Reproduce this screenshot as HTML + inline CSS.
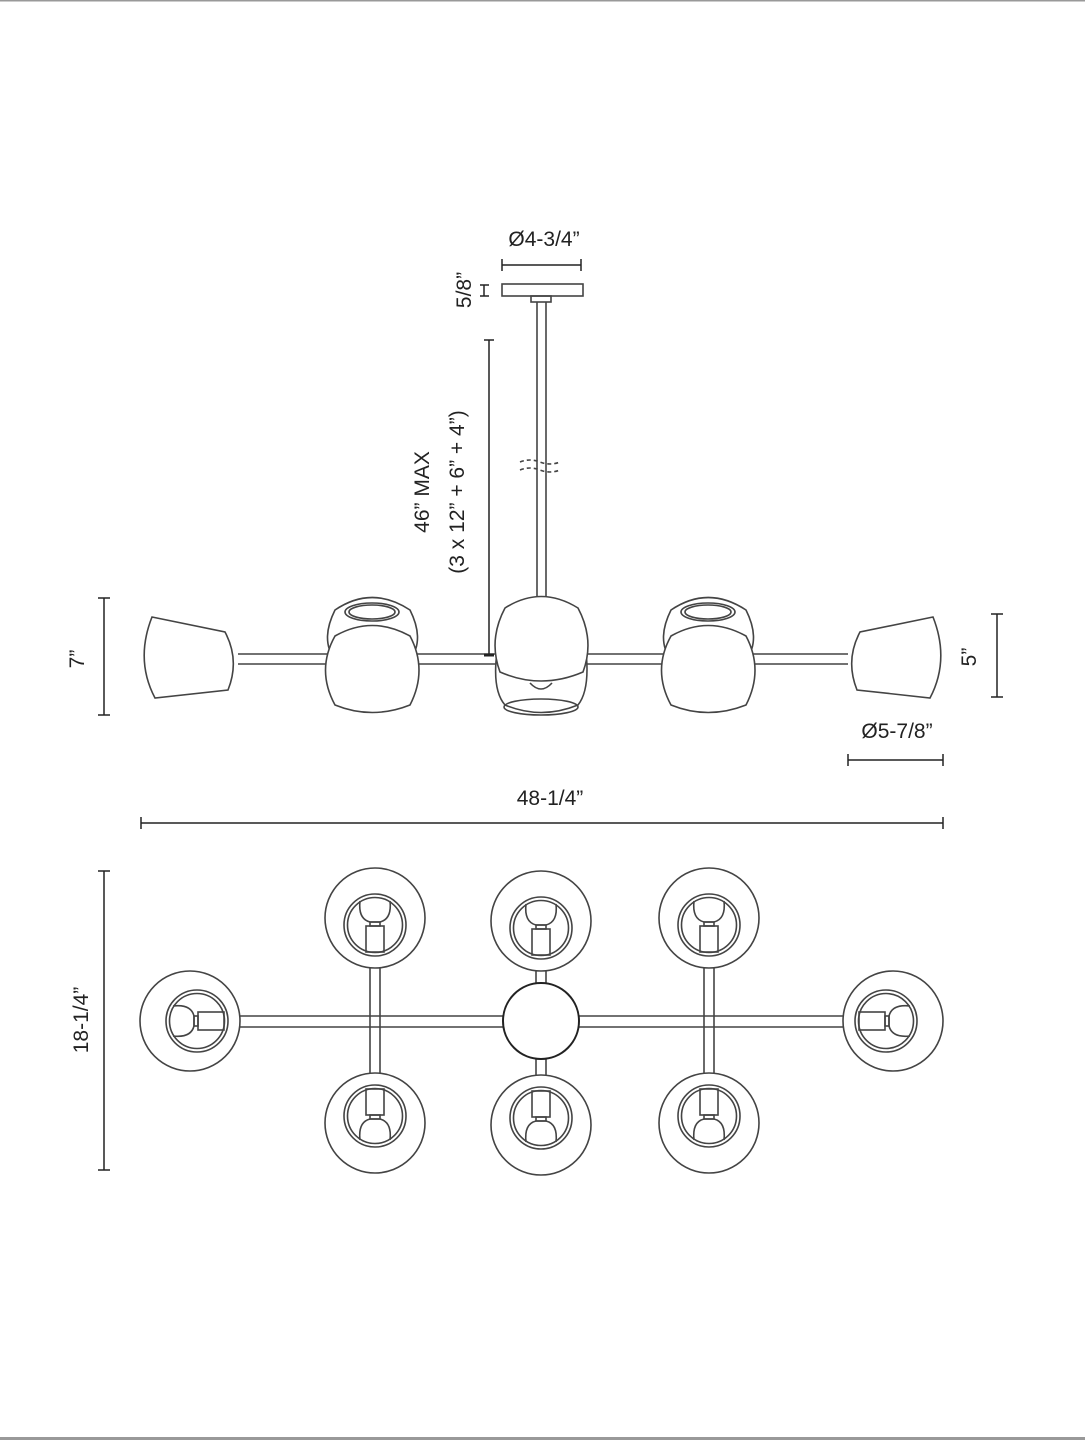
<!DOCTYPE html>
<html><head><meta charset="utf-8"><style>
html,body{margin:0;padding:0;background:#fff}
svg{display:block}
text{font-family:"Liberation Sans",sans-serif;font-size:21px;fill:#222}
</style></head><body>
<svg width="1085" height="1440" viewBox="0 0 1085 1440" xmlns="http://www.w3.org/2000/svg">
<defs>
<g id="gl" fill="none" stroke="#444" stroke-width="1.6">
  <circle cx="0" cy="0" r="50"/>
  <circle cx="0" cy="7" r="31"/>
  <circle cx="0" cy="7" r="27.5"/>
  <path d="M-15,-17 Q-17,1 -5,4 L5,4 Q17,1 15,-17"/>
  <rect x="-5" y="4" width="10" height="4"/>
  <rect x="-9" y="8" width="18" height="26"/>
</g>
</defs>
<rect x="0" y="0" width="1085" height="1.5" fill="#999"/>
<rect x="0" y="1437" width="1085" height="3" fill="#999"/>

<g fill="none" stroke="#444" stroke-width="1.6">
<rect x="502" y="284" width="81" height="12"/>
<rect x="531" y="296" width="20" height="6"/>
<line x1="537" y1="302" x2="537" y2="600"/><line x1="546" y1="302" x2="546" y2="600"/>
<path d="M520,462 q10,-4 20,0 q10,4 20,0 M520,470 q10,-4 20,0 q10,4 20,0" stroke-dasharray="4 3"/>
<line x1="238" y1="654" x2="848" y2="654"/><line x1="238" y1="664" x2="848" y2="664"/>
<path d="M152,617 L225,632 Q240,660 228,690 L155,698 Q135,660 152,617 Z" fill="#fff"/>
<path d="M933,617 L860,632 Q845,660 857,690 L930,698 Q950,660 933,617 Z" fill="#fff"/>
<g id="pair">
<path d="M335,610 Q372,585 410,610 Q425,640 410,660 L335,660 Q320,640 335,610 Z" fill="#fff"/>
<ellipse cx="372" cy="612" rx="27" ry="9"/><ellipse cx="372" cy="612" rx="23" ry="7"/>
<path d="M335,636 Q372,615 410,636 Q428,670 410,705 Q372,720 335,705 Q316,670 335,636 Z" fill="#fff"/>
</g>
<use href="#pair" x="336"/>
<path d="M497,652 Q492,690 505,705 Q541,720 578,705 Q590,690 586,652 Z" fill="#fff"/>
<ellipse cx="541" cy="707" rx="37" ry="8"/>
<path d="M530,683 Q541,695 552,683"/>
<path d="M505,608 Q541,585 578,608 Q595,640 583,672 Q541,690 500,672 Q488,640 505,608 Z" fill="#fff"/>
<line x1="240" y1="1016" x2="843" y2="1016"/><line x1="240" y1="1027" x2="843" y2="1027"/>
<line x1="370" y1="968" x2="370" y2="1073"/><line x1="380" y1="968" x2="380" y2="1073"/>
<line x1="704" y1="968" x2="704" y2="1073"/><line x1="714" y1="968" x2="714" y2="1073"/>
<line x1="536" y1="970" x2="536" y2="1075"/><line x1="546" y1="970" x2="546" y2="1075"/>
<circle cx="541" cy="1021" r="38" fill="#fff" stroke="#222" stroke-width="2"/>
</g>
<use href="#gl" transform="translate(375,918)"/>
<use href="#gl" transform="translate(541,921)"/>
<use href="#gl" transform="translate(709,918)"/>
<use href="#gl" transform="translate(375,1123) rotate(180)"/>
<use href="#gl" transform="translate(541,1125) rotate(180)"/>
<use href="#gl" transform="translate(709,1123) rotate(180)"/>
<use href="#gl" transform="translate(190,1021) rotate(-90)"/>
<use href="#gl" transform="translate(893,1021) rotate(90)"/>

<g stroke="#222" stroke-width="1.5" fill="none">
<line x1="502" y1="265" x2="581" y2="265"/><line x1="502" y1="259" x2="502" y2="271"/><line x1="581" y1="259" x2="581" y2="271"/>
<line x1="480" y1="285" x2="489" y2="285"/><line x1="480" y1="296" x2="489" y2="296"/><line x1="484" y1="285" x2="484" y2="296"/>
<line x1="489" y1="340" x2="489" y2="655"/><line x1="484" y1="340" x2="494" y2="340"/><line x1="484" y1="655" x2="494" y2="655" stroke-width="3"/>
<line x1="104" y1="598" x2="104" y2="715"/><line x1="98" y1="598" x2="110" y2="598"/><line x1="98" y1="715" x2="110" y2="715"/>
<line x1="997" y1="614" x2="997" y2="697"/><line x1="991" y1="614" x2="1003" y2="614"/><line x1="991" y1="697" x2="1003" y2="697"/>
<line x1="848" y1="760" x2="943" y2="760"/><line x1="848" y1="754" x2="848" y2="766"/><line x1="943" y1="754" x2="943" y2="766"/>
<line x1="141" y1="823" x2="943" y2="823"/><line x1="141" y1="817" x2="141" y2="829"/><line x1="943" y1="817" x2="943" y2="829"/>
<line x1="104" y1="871" x2="104" y2="1170"/><line x1="98" y1="871" x2="110" y2="871"/><line x1="98" y1="1170" x2="110" y2="1170"/>
</g>
<text x="544" y="246" text-anchor="middle">Ø4-3/4”</text>
<text transform="translate(471,290) rotate(-90)" text-anchor="middle">5/8”</text>
<text transform="translate(429,492) rotate(-90)" text-anchor="middle">46” MAX</text>
<text transform="translate(464,492) rotate(-90)" text-anchor="middle">(3 x 12” + 6” + 4”)</text>
<text transform="translate(84,659) rotate(-90)" text-anchor="middle">7”</text>
<text transform="translate(976,657) rotate(-90)" text-anchor="middle">5”</text>
<text x="897" y="738" text-anchor="middle">Ø5-7/8”</text>
<text x="550" y="805" text-anchor="middle">48-1/4”</text>
<text transform="translate(88,1020) rotate(-90)" text-anchor="middle">18-1/4”</text>
</svg>
</body></html>
